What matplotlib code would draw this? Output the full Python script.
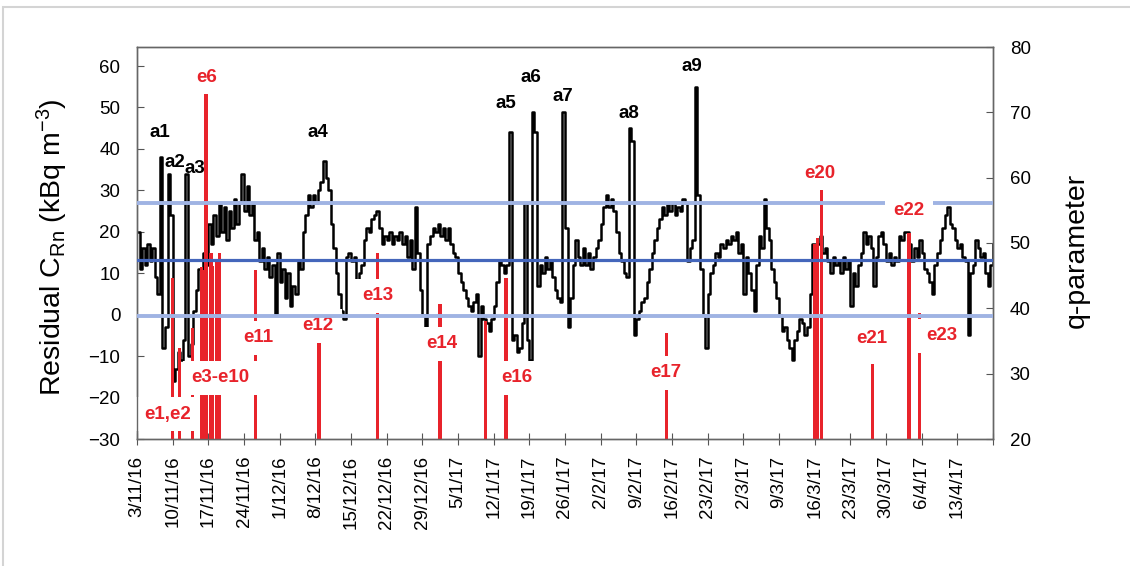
import numpy as np
import pandas as pd
import matplotlib
matplotlib.use("Agg")
import matplotlib.pyplot as plt
from matplotlib.transforms import blended_transform_factory
from matplotlib.patches import Rectangle
from datetime import datetime

plt.rcParams['font.family'] = ['Liberation Sans', 'DejaVu Sans']
plt.rcParams['mathtext.fontset'] = 'custom'
plt.rcParams['mathtext.rm'] = 'Liberation Sans'
plt.rcParams['mathtext.it'] = 'Liberation Sans:italic'

# ---------------- data ----------------
series_start = "2016-11-03"
series_step = "12h"
residual = [
    20, 11, 16, 12, 17, 13, 16, 9, 5, 38, -8, -3, 34, 24,
    -16, -13, -9, -11, -6, 34, -10, -7, 1, 6, 11, 8, 15, 12,
    22, 17, 24, 19, 27, 20, 26, 18, 25, 21, 28, 22, 27, 34,
    25, 31, 24, 27, 18, 20, 13, 16, 11, 14, 9, 12, 0, 15,
    8, 11, 4, 10, 2, 7, 5, 13, 11, 20, 24, 29, 26, 29,
    27, 30, 32, 37, 33, 30, 22, 16, 10, 5, 1, -1, 14, 15,
    13, 14, 6, 10, 12, 18, 21, 20, 23, 24, 25, 21, 17, 19,
    18, 20, 17, 19, 18, 20, 17, 19, 14, 18, 11, 26, 15, 6,
    0, -3, 17, 19, 21, 20, 22, 19, 21, 18, 21, 17, 15, 14,
    10, 8, 6, 4, 2, 1, 3, 5, -10, 2, -1, -2, -4, -1,
    2, 8, 13, 12, 10, 12, 44, -6, -5, -9, -8, -2, 27, -6,
    -11, 49, 44, 7, 12, 10, 14, 11, 13, 9, 6, 4, 3, 49,
    21, -3, 4, 12, 18, 14, 12, 16, 12, 15, 11, 14, 16, 18,
    22, 26, 29, 26, 28, 25, 20, 15, 13, 10, 9, 45, 42, -5,
    -1, 1, 3, 4, 8, 11, 15, 18, 21, 23, 26, 24, 27, 25,
    27, 24, 26, 25, 28, 27, 13, 16, 18, 55, 29, 11, 0, -8,
    5, 10, 12, 15, 14, 17, 16, 18, 17, 19, 18, 20, 15, 17,
    5, 14, 10, 6, 1, 12, 19, 16, 28, 21, 18, 11, 8, 4,
    0, -4, -3, -6, -8, -11, -6, -4, -1, -2, -5, -3, 5, 17,
    15, 17, 19, 15, 16, 13, 10, 14, 12, 13, 10, 14, 11, 13,
    2, 10, 7, 12, 15, 20, 17, 19, 16, 7, 14, 19, 20, 17,
    13, 15, 12, 14, 13, 19, 18, 20, 20, 17, 13, 16, 14, 18,
    15, 11, 10, 8, 5, 12, 15, 18, 21, 24, 26, 22, 21, 18,
    16, 17, 14, 13, -5, 10, 12, 18, 16, 14, 15, 10, 7, 12, 17,
]

event_times = [
    "2016-11-09 22:00", "2016-11-11 08:00", "2016-11-13 22:00", "2016-11-15 16:00",
    "2016-11-16 00:00", "2016-11-16 13:00", "2016-11-17 13:00", "2016-11-17 19:00",
    "2016-11-18 13:00", "2016-11-19 05:00", "2016-11-26 07:00", "2016-12-08 17:00",
    "2016-12-20 06:00", "2017-01-01 11:00", "2017-01-10 10:00", "2017-01-14 10:00",
    "2017-02-14 23:00", "2017-03-16 02:00", "2017-03-16 14:00", "2017-03-17 09:00",
    "2017-03-27 10:00", "2017-04-03 12:00", "2017-04-05 13:00",
]
event_q = [44.7, 34.0, 37.0, 46.3, 45.8, 73.0, 48.4, 46.5, 47.6, 48.4, 45.8, 35.0,
           48.4, 40.7, 38.1, 44.7, 36.3, 49.9, 50.7, 58.4, 31.5, 51.5, 39.3]

threshold_levels = [27.0, 13.3, -0.3]   # residual units

tick_labels = ["3/11/16", "10/11/16", "17/11/16", "24/11/16", "1/12/16", "8/12/16",
               "15/12/16", "22/12/16", "29/12/16", "5/1/17", "12/1/17", "19/1/17",
               "26/1/17", "2/2/17", "9/2/17", "16/2/17", "23/2/17", "2/3/17",
               "9/3/17", "16/3/17", "23/3/17", "30/3/17", "6/4/17", "13/4/17"]
x_end = "2017-04-20"

anomaly_labels = ["a1", "a2", "a3", "a4", "a5", "a6", "a7", "a8", "a9"]
anomaly_label_times = ["2016-11-07 12:00", "2016-11-10 11:00", "2016-11-14 09:00",
                       "2016-12-08 12:00", "2017-01-14 10:00", "2017-01-19 07:00",
                       "2017-01-25 14:00", "2017-02-07 14:00", "2017-02-19 22:00"]
anomaly_label_vals = [44, 36.8, 35.3, 44, 51, 57.3, 52.7, 48.6, 60]

event_labels = ["e6", "e1,e2", "e3-e10", "e11", "e12", "e13", "e14", "e16", "e17",
                "e20", "e21", "e22", "e23"]
event_label_times = ["2016-11-16 18:00", "2016-11-09 02:00", "2016-11-19 07:00",
                     "2016-11-26 18:00", "2016-12-08 12:00", "2016-12-20 07:00",
                     "2017-01-01 22:00", "2017-01-16 14:00", "2017-02-14 19:00",
                     "2017-03-17 02:00", "2017-03-27 07:00", "2017-04-03 12:00",
                     "2017-04-10 00:00"]
event_label_vals = [57.3, -24, -15.2, -5.6, -2.7, 4.6, -7, -15.2, -14,
                    34.1, -5.8, 25.2, -5.1]
# labels whose white box is drawn over the blue reference lines
labels_over_lines = ["e22"]

# ---------------- figure ----------------
fig = plt.figure(figsize=(11.30, 5.66), dpi=100)
fig.patch.set_facecolor('white')
fig.patches.append(Rectangle((3 / 1130, -0.2), 1.5, 1 - 7 / 566 + 0.2,
                             transform=fig.transFigure, fill=False,
                             edgecolor='#d4d4d4', lw=1.5, zorder=0))

ax = fig.add_axes([137 / 1130, 1 - 439 / 566, (993 - 137) / 1130, (439 - 47) / 566])
ax2 = ax.twinx()

times = pd.date_range(series_start, periods=len(residual), freq=series_step)
ax.plot(times, residual, color='black', lw=1.8, drawstyle='steps-post', zorder=2)

ev_t = pd.to_datetime(event_times)
ev_q = np.array(event_q)
ax2.bar(ev_t, ev_q - 20, bottom=20, width=0.65, color='#e8232b', zorder=2,
        linewidth=0)

blend = blended_transform_factory(ax2.transAxes, ax.transData)
line_styles = [('#9fb3e3', 2.8), ('#4466bb', 2.3), ('#9fb3e3', 2.8)]
for lvl, (c, w) in zip(threshold_levels, line_styles):
    ax2.plot([0, 1], [lvl, lvl], transform=blend, color=c, lw=w, zorder=3)

for lab, t, v in zip(anomaly_labels, anomaly_label_times, anomaly_label_vals):
    ax2.text(pd.Timestamp(t), v, lab, transform=ax.transData, ha='center',
             va='center', fontsize=13.5, fontweight='bold', color='black', zorder=5)
for lab, t, v in zip(event_labels, event_label_times, event_label_vals):
    z = 4 if lab in labels_over_lines else 2.5
    ax2.text(pd.Timestamp(t), v, lab, transform=ax.transData, ha='center',
             va='center', fontsize=13.5, fontweight='bold', color='#e8232b', zorder=z,
             bbox=dict(boxstyle='square,pad=0.45', facecolor='white',
                       edgecolor='none'))

# axes
tick_pos = [datetime.strptime(s, "%d/%m/%y") for s in tick_labels]
ax.set_xlim(tick_pos[0], pd.Timestamp(x_end))
ax.set_xticks(tick_pos + [pd.Timestamp(x_end).to_pydatetime()])
ax.set_xticklabels(tick_labels + [""], rotation=90, fontsize=13.5)
ax.set_ylim(-30, 64.6)
ax.set_yticks(np.arange(-30, 61, 10))
ax.tick_params(axis='y', direction='in', length=5, labelsize=13.5, color='#555555',
               pad=12)
ax.tick_params(axis='x', direction='inout', length=8, color='#555555', pad=8)
ax2.set_ylim(20, 80)
ax2.set_yticks(np.arange(20, 81, 10))
ax2.tick_params(axis='y', direction='in', length=5, labelsize=13.5, color='#555555',
                pad=12)

for a in (ax, ax2):
    for s in a.spines.values():
        s.set_color('#666666')
        s.set_linewidth(1.0)

ax.set_ylabel(r"Residual C$_{\mathrm{Rn}}$ (kBq m$^{-3}$)", fontsize=20.5)
ax.yaxis.set_label_coords(-0.078, 0.49)
ax2.set_ylabel("q-parameter", fontsize=20.5)
ax2.yaxis.set_label_coords(1.083, 0.48)

fig.savefig("out.png", dpi=100, facecolor='white')
